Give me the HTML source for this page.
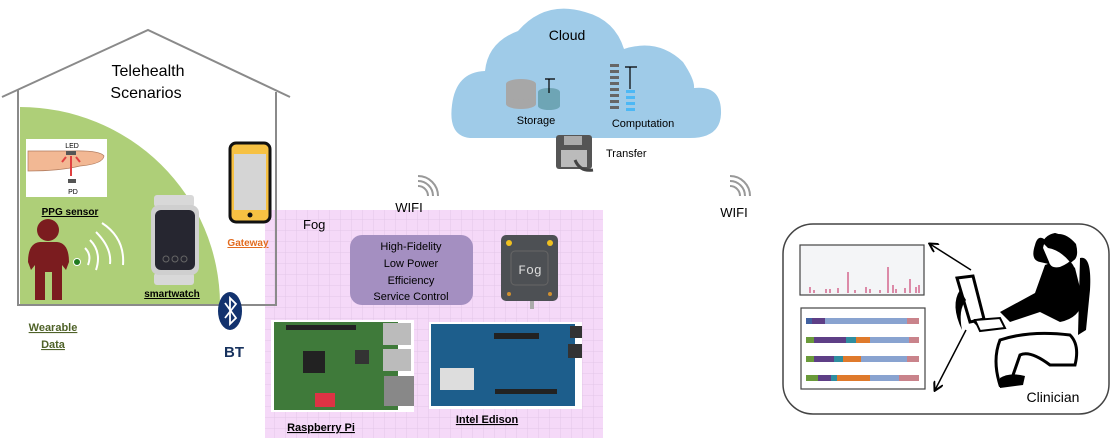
<!DOCTYPE html>
<html><head><meta charset="utf-8"><style>
body{margin:0;background:#fff;}
svg{display:block;font-family:"Liberation Sans",sans-serif;}
</style></head><body>
<svg width="1114" height="442" viewBox="0 0 1114 442" xmlns="http://www.w3.org/2000/svg">
<defs>
<pattern id="grid" width="11" height="11" patternUnits="userSpaceOnUse">
<rect width="11" height="11" fill="#f5d9f8"/>
<path d="M11 0V11M0 11H11" stroke="#e2c6e8" stroke-width="1"/>
</pattern>
<marker id="ah" markerWidth="10" markerHeight="10" refX="8" refY="5" orient="auto" markerUnits="userSpaceOnUse"><path d="M0 0L9 5L0 10" fill="none" stroke="#000" stroke-width="2"/></marker>
</defs>

<!-- Fog area -->
<rect x="265" y="210" width="338" height="228" fill="url(#grid)"/>

<!-- House -->
<path d="M2 97L148 30L290 97" fill="none" stroke="#8a8a8a" stroke-width="2"/>
<path d="M18 90V305H276V92" fill="none" stroke="#8a8a8a" stroke-width="2"/>
<path d="M20 304V107A200 198 0 0 1 220 304Z" fill="#aecf78"/>
<text x="148" y="76" font-size="16" text-anchor="middle">Telehealth</text>
<text x="146" y="98" font-size="16" text-anchor="middle">Scenarios</text>

<!-- PPG -->
<rect x="26" y="139" width="81" height="58" fill="#fff"/>
<path d="M28 151H70Q100 150 104 156Q103 164 80 166Q60 171 28 171Z" fill="#f2b894" stroke="#b07a5c" stroke-width="0.7"/>
<rect x="66" y="151" width="10" height="4" fill="#555"/>
<rect x="68" y="179" width="8" height="4" fill="#555"/>
<path d="M71 156V176M66 157L62 162M76 157L80 162" stroke="#e04040" stroke-width="2"/>
<text x="72" y="148" font-size="7" text-anchor="middle">LED</text>
<text x="73" y="194" font-size="7" text-anchor="middle">PD</text>
<text x="70" y="215" font-size="10" font-weight="bold" text-anchor="middle" text-decoration="underline">PPG sensor</text>

<!-- Person -->
<g fill="#7b1c1f">
<circle cx="48" cy="230" r="11"/>
<path d="M28 262Q28 243 40 242H57Q69 243 69 262L66 270L62 265V300H52V272H45V300H35V265L31 270Z"/>
</g>
<circle cx="77" cy="262" r="3.5" fill="#1f7a1f" stroke="#fff" stroke-width="1"/>
<g fill="none" stroke="#fff" stroke-width="2">
<path d="M85 248Q92 255 88 265"/>
<path d="M90 240Q102 252 96 270"/>
<path d="M96 232Q112 248 110 264"/>
<path d="M102 223Q125 238 123 265"/>
</g>

<!-- Smartwatch -->
<rect x="154" y="195" width="40" height="12" rx="3" fill="#d8d8d8"/>
<rect x="154" y="273" width="40" height="12" rx="3" fill="#d8d8d8"/>
<rect x="151" y="205" width="48" height="70" rx="8" fill="#cfcfcf"/>
<rect x="155" y="210" width="40" height="60" rx="6" fill="#262630"/>
<circle cx="166" cy="259" r="3" fill="none" stroke="#666"/><circle cx="175" cy="259" r="3" fill="none" stroke="#666"/><circle cx="184" cy="259" r="3" fill="none" stroke="#666"/>
<text x="172" y="297" font-size="10" font-weight="bold" text-anchor="middle" text-decoration="underline">smartwatch</text>

<!-- Gateway -->
<rect x="230" y="143" width="40" height="79" rx="6" fill="#f6c143" stroke="#111" stroke-width="3"/>
<rect x="234" y="154" width="32" height="56" fill="#d5d5d5"/>
<circle cx="250" cy="215" r="2.5" fill="#111"/>
<text x="248" y="246" font-size="10" font-weight="bold" fill="#e26b1f" text-anchor="middle" text-decoration="underline">Gateway</text>

<!-- BT -->
<ellipse cx="230" cy="311" rx="12" ry="19" fill="#12326e"/>
<path d="M225 303L236 318L230 324V298L236 304L225 318" fill="none" stroke="#fff" stroke-width="1.8"/>
<text x="234" y="357" font-size="15" font-weight="bold" fill="#17325e" text-anchor="middle">BT</text>

<text x="53" y="331" font-size="11" font-weight="bold" fill="#4f6228" text-anchor="middle" text-decoration="underline">Wearable</text>
<text x="53" y="348" font-size="11" font-weight="bold" fill="#4f6228" text-anchor="middle" text-decoration="underline">Data</text>

<!-- Fog -->
<text x="303" y="229" font-size="13">Fog</text>
<rect x="350" y="235" width="123" height="70" rx="12" fill="#a48fc1"/>
<g font-size="11" text-anchor="middle"><text x="411" y="250">High-Fidelity</text><text x="411" y="267">Low Power</text><text x="411" y="284">Efficiency</text><text x="411" y="300">Service Control</text></g>
<rect x="501" y="235" width="57" height="66" rx="5" fill="#4d5054"/>
<rect x="530" y="301" width="4" height="8" fill="#aaa"/>
<rect x="511" y="251" width="37" height="34" rx="4" fill="none" stroke="#666"/>
<text x="530" y="274" font-size="13" fill="#ddd" text-anchor="middle" font-family="Liberation Mono,monospace">Fog</text>
<circle cx="509" cy="243" r="3" fill="#f0c020"/><circle cx="550" cy="243" r="3" fill="#f0c020"/>
<circle cx="509" cy="294" r="2" fill="#d09030"/><circle cx="550" cy="294" r="2" fill="#d09030"/>

<!-- Raspberry Pi -->
<rect x="271" y="320" width="143" height="92" fill="#fff"/>
<rect x="274" y="322" width="124" height="88" fill="#3f7a3a"/>
<rect x="383" y="323" width="28" height="22" fill="#bbb"/><rect x="383" y="349" width="28" height="22" fill="#bbb"/>
<rect x="384" y="376" width="30" height="30" fill="#888"/>
<rect x="303" y="351" width="22" height="22" fill="#222"/>
<rect x="355" y="350" width="14" height="14" fill="#333"/>
<rect x="286" y="325" width="70" height="5" fill="#222"/>
<rect x="315" y="393" width="20" height="14" fill="#d34"/>
<text x="321" y="431" font-size="11" font-weight="bold" text-anchor="middle" text-decoration="underline">Raspberry Pi</text>

<!-- Intel Edison -->
<rect x="429" y="322" width="153" height="87" fill="#fff"/>
<rect x="431" y="324" width="144" height="82" fill="#1d5e8c"/>
<rect x="440" y="368" width="34" height="22" fill="#ddd"/>
<rect x="494" y="333" width="45" height="6" fill="#222"/><rect x="495" y="389" width="62" height="5" fill="#222"/>
<rect x="570" y="326" width="12" height="12" fill="#333"/><rect x="568" y="344" width="14" height="14" fill="#333"/>
<text x="487" y="423" font-size="11" font-weight="bold" text-anchor="middle" text-decoration="underline">Intel Edison</text>

<!-- WIFI -->
<g fill="none" stroke="#999" stroke-width="2">
<path d="M418 186A10 10 0 0 1 428 196"/>
<path d="M418 181A15 15 0 0 1 433 196"/>
<path d="M418 176A20 20 0 0 1 438 196"/>
<path d="M730 186A10 10 0 0 1 740 196"/>
<path d="M730 181A15 15 0 0 1 745 196"/>
<path d="M730 176A20 20 0 0 1 750 196"/>
</g>
<text x="409" y="212" font-size="13" text-anchor="middle">WIFI</text>
<text x="734" y="217" font-size="13" text-anchor="middle">WIFI</text>

<!-- Cloud -->
<path d="M470 138Q448 136 452 105Q456 72 485 71Q488 42 518 31Q545 0 585 12Q615 20 624 49Q658 38 683 62Q695 80 694 88Q722 85 721 114Q720 138 690 138Z" fill="#9fcbe8"/>
<text x="567" y="40" font-size="14" text-anchor="middle">Cloud</text>
<g fill="#a7a7a7"><ellipse cx="521" cy="84" rx="15" ry="5"/><rect x="506" y="84" width="30" height="20"/><ellipse cx="521" cy="104" rx="15" ry="5"/></g>
<g fill="#6ea5b5"><ellipse cx="549" cy="92" rx="11" ry="4"/><rect x="538" y="92" width="22" height="14"/><ellipse cx="549" cy="106" rx="11" ry="4"/></g>
<path d="M545 79H555M549 79V93" stroke="#000" stroke-width="1.2"/>
<text x="536" y="124" font-size="11" text-anchor="middle">Storage</text>
<g fill="#666"><rect x="610" y="64" width="9" height="3"/><rect x="610" y="70" width="9" height="3"/><rect x="610" y="76" width="9" height="3"/><rect x="610" y="82" width="9" height="3"/><rect x="610" y="88" width="9" height="3"/><rect x="610" y="94" width="9" height="3"/><rect x="610" y="100" width="9" height="3"/><rect x="610" y="106" width="9" height="3"/></g>
<g fill="#4cb8f5"><rect x="626" y="90" width="9" height="3"/><rect x="626" y="96" width="9" height="3"/><rect x="626" y="102" width="9" height="3"/><rect x="626" y="108" width="9" height="3"/></g>
<path d="M625 67H637M630 67V89" stroke="#000" stroke-width="1.2"/>
<text x="643" y="127" font-size="11" text-anchor="middle">Computation</text>
<rect x="556" y="135" width="36" height="34" rx="3" fill="#555"/>
<rect x="564" y="136" width="18" height="9" fill="#aaa"/><rect x="561" y="150" width="26" height="17" fill="#bbb"/>
<path d="M575 160Q580 172 593 170" fill="none" stroke="#444" stroke-width="3"/>
<text x="606" y="157" font-size="11">Transfer</text>

<!-- Clinician -->
<rect x="783" y="224" width="326" height="190" rx="30" fill="#fff" stroke="#444" stroke-width="1.5"/>
<rect x="800" y="245" width="124" height="50" fill="#f4f5f7" stroke="#444" stroke-width="1.2"/>
<g stroke="#d0507e" stroke-width="1.3">
<path d="M810 293v-6M814 293v-3M830 293v-4M838 293v-5M848 293v-21M866 293v-6M870 293v-4M888 293v-26M893 293v-8M896 293v-4M905 293v-5M910 293v-14M916 293v-6M919 293v-8M826 293v-4M855 293v-3M880 293v-3"/>
</g>
<rect x="801" y="308" width="124" height="81" fill="#fff" stroke="#444" stroke-width="1.2"/>
<g>
<rect x="806" y="318" width="6" height="6" fill="#4060a0"/><rect x="812" y="318" width="20" height="6" fill="#5e3f86"/><rect x="825" y="318" width="82" height="6" fill="#89a3d0"/><rect x="907" y="318" width="12" height="6" fill="#c9838b"/>
<rect x="806" y="337" width="8" height="6" fill="#6a9a3a"/><rect x="814" y="337" width="32" height="6" fill="#5e3f86"/><rect x="846" y="337" width="10" height="6" fill="#2f8ea0"/><rect x="856" y="337" width="14" height="6" fill="#df7a2c"/><rect x="870" y="337" width="39" height="6" fill="#89a3d0"/><rect x="909" y="337" width="10" height="6" fill="#c9838b"/>
<rect x="806" y="356" width="8" height="6" fill="#6a9a3a"/><rect x="814" y="356" width="20" height="6" fill="#5e3f86"/><rect x="834" y="356" width="9" height="6" fill="#2f8ea0"/><rect x="843" y="356" width="18" height="6" fill="#df7a2c"/><rect x="861" y="356" width="46" height="6" fill="#89a3d0"/><rect x="907" y="356" width="12" height="6" fill="#c9838b"/>
<rect x="806" y="375" width="12" height="6" fill="#6a9a3a"/><rect x="818" y="375" width="13" height="6" fill="#5e3f86"/><rect x="831" y="375" width="6" height="6" fill="#2f8ea0"/><rect x="837" y="375" width="33" height="6" fill="#df7a2c"/><rect x="870" y="375" width="29" height="6" fill="#89a3d0"/><rect x="899" y="375" width="20" height="6" fill="#c9838b"/>
</g>
<path d="M971 270L930 244" stroke="#000" stroke-width="1.5" marker-end="url(#ah)"/>
<path d="M966 330L935 390" stroke="#000" stroke-width="1.5" marker-end="url(#ah)"/>
<path d="M968 316L978 326" stroke="#000" stroke-width="1.5"/>
<!-- figure -->
<path d="M957 278L973 276L984 319L970 322Z" fill="#fff" stroke="#000" stroke-width="3"/>
<path d="M960 290Q950 305 962 330Q958 310 966 300Z" fill="#000"/>
<path d="M975 320L1000 318L1005 328L980 331Z" fill="#fff" stroke="#000" stroke-width="2"/>
<path d="M1045 265Q1065 257 1075 268L1083 300Q1080 318 1060 322L1040 312L1010 322L1000 312L1035 293Z" fill="#000"/>
<path d="M1040 262Q1030 260 1035 245Q1040 225 1060 260Q1072 258 1075 270" fill="#000"/>
<path d="M1048 262Q1045 255 1042 248Q1044 236 1055 234Q1072 238 1074 258Q1070 264 1060 268Q1050 270 1048 262Z" fill="#fff" stroke="#000" stroke-width="2"/>
<path d="M1042 242Q1060 225 1076 244Q1080 260 1070 262Q1060 250 1048 248Z" fill="#000"/>
<path d="M1080 258Q1092 255 1090 290L1086 330L1078 335Z" fill="#000"/>
<path d="M1000 340Q1030 330 1070 335Q1080 345 1075 365L1050 365Q1030 350 1020 355L1012 378L1000 385Q992 360 1000 340Z" fill="#fff" stroke="#000" stroke-width="3"/>
<path d="M1000 378Q1010 372 1025 376L1023 385L1000 388Z" fill="#000"/>
<text x="1053" y="402" font-size="14" text-anchor="middle">Clinician</text>
</svg>
</body></html>
